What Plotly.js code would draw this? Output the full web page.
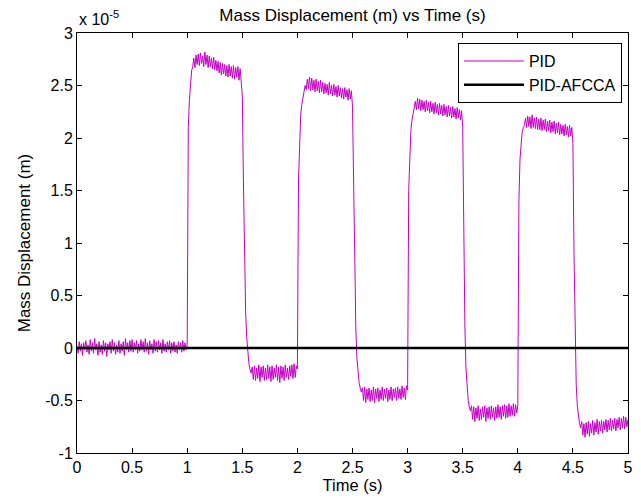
<!DOCTYPE html>
<html>
<head>
<meta charset="utf-8">
<script src="https://cdn.plot.ly/plotly-3.0.1.min.js"></script>
<style>html,body{margin:0;padding:0;background:#fff;}</style>
</head>
<body>
<div id="chart" style="width:641px;height:498px;"></div>
<script>
// Time axis: sampled every 0.01 s starting at 0 s
var timeStart = 0;
var timeStep = 0.01;
// Mass displacement for PID, in units of 1e-5 m
var pid_0_05 = [
 0.02,-0.05,0.06,-0.03,0.04,-0.07,0.05,-0.02,0.07,-0.04,
 0.03,-0.06,0.08,-0.03,0.05,-0.05,0.09,-0.02,0.04,-0.07,
 0.06,-0.04,0.03,-0.06,0.07,-0.03,0.05,-0.08,0.04,-0.02,
 0.06,-0.05,0.08,-0.03,0.05,-0.06,0.03,-0.04,0.07,-0.05,
 0.04,-0.03,0.06,-0.07,0.09,-0.02,0.05,-0.04,0.07,-0.03];
var pid_05_1 = [
 0.08,-0.04,0.05,-0.02,0.07,-0.05,0.04,-0.03,0.08,-0.02,
 0.06,-0.04,0.09,-0.03,0.05,-0.06,0.07,-0.02,0.04,-0.05,
 0.08,-0.03,0.06,-0.04,0.07,-0.02,0.05,-0.05,0.08,-0.03,
 0.04,-0.04,0.06,-0.02,0.07,-0.05,0.05,-0.03,0.06,-0.04,
 0.03,-0.05,0.06,-0.02,0.05,-0.04,0.07,-0.03,0.05,-0.02];
var pid_1_15 = [
 0.03,2.10,2.36,2.52,2.64,2.68,2.76,2.67,2.79,2.70,
 2.80,2.69,2.81,2.71,2.78,2.68,2.82,2.70,2.79,2.67,
 2.78,2.68,2.76,2.66,2.77,2.65,2.74,2.64,2.73,2.62,
 2.72,2.60,2.71,2.61,2.70,2.59,2.69,2.58,2.70,2.59,
 2.68,2.57,2.69,2.56,2.67,2.58,2.68,2.55,2.66,2.54];
var pid_15_2 = [
 2.40,1.60,0.85,0.35,0.10,-0.05,-0.15,-0.20,-0.24,-0.18,
 -0.30,-0.17,-0.31,-0.19,-0.29,-0.16,-0.32,-0.18,-0.28,-0.17,
 -0.31,-0.19,-0.30,-0.16,-0.29,-0.18,-0.32,-0.17,-0.30,-0.19,
 -0.28,-0.16,-0.31,-0.18,-0.33,-0.17,-0.29,-0.18,-0.31,-0.16,
 -0.28,-0.19,-0.30,-0.17,-0.27,-0.16,-0.29,-0.15,-0.28,-0.17];
var pid_2_25 = [
 -0.20,1.60,2.05,2.22,2.32,2.38,2.44,2.50,2.46,2.56,
 2.47,2.58,2.45,2.57,2.46,2.55,2.44,2.56,2.45,2.54,
 2.43,2.55,2.44,2.53,2.42,2.52,2.43,2.51,2.41,2.53,
 2.42,2.50,2.40,2.51,2.41,2.49,2.39,2.50,2.40,2.48,
 2.38,2.47,2.37,2.48,2.39,2.46,2.36,2.47,2.37,2.45];
var pid_25_3 = [
 2.30,1.50,0.70,0.20,-0.10,-0.25,-0.33,-0.38,-0.42,-0.38,
 -0.50,-0.37,-0.52,-0.39,-0.49,-0.38,-0.51,-0.40,-0.50,-0.37,
 -0.52,-0.39,-0.48,-0.38,-0.51,-0.40,-0.49,-0.37,-0.50,-0.39,
 -0.48,-0.38,-0.51,-0.40,-0.49,-0.37,-0.50,-0.39,-0.47,-0.38,
 -0.50,-0.37,-0.48,-0.39,-0.49,-0.36,-0.47,-0.38,-0.49,-0.36];
var pid_3_35 = [
 -0.40,1.50,1.90,2.08,2.17,2.24,2.28,2.35,2.27,2.38,
 2.28,2.37,2.26,2.36,2.27,2.35,2.25,2.36,2.26,2.34,
 2.24,2.35,2.25,2.33,2.23,2.34,2.24,2.32,2.22,2.33,
 2.23,2.31,2.21,2.32,2.22,2.30,2.20,2.31,2.21,2.29,
 2.19,2.30,2.20,2.28,2.18,2.29,2.19,2.27,2.17,2.26];
var pid_35_4 = [
 2.10,1.00,0.20,-0.20,-0.40,-0.50,-0.56,-0.60,-0.55,-0.68,
 -0.56,-0.70,-0.57,-0.67,-0.55,-0.69,-0.58,-0.68,-0.56,-0.66,
 -0.55,-0.70,-0.57,-0.67,-0.56,-0.68,-0.55,-0.66,-0.57,-0.69,
 -0.56,-0.67,-0.54,-0.66,-0.56,-0.68,-0.55,-0.65,-0.54,-0.67,
 -0.55,-0.66,-0.53,-0.65,-0.55,-0.64,-0.53,-0.65,-0.54,-0.62];
var pid_4_45 = [
 -0.55,1.40,1.80,1.97,2.06,2.10,2.12,2.19,2.10,2.21,
 2.11,2.20,2.09,2.22,2.10,2.19,2.09,2.20,2.08,2.18,
 2.08,2.19,2.07,2.17,2.08,2.18,2.06,2.16,2.07,2.17,
 2.05,2.15,2.06,2.16,2.04,2.14,2.05,2.15,2.03,2.13,
 2.04,2.12,2.02,2.13,2.03,2.11,2.01,2.12,2.02,2.10];
var pid_45_5 = [
 1.95,0.90,0.00,-0.35,-0.55,-0.65,-0.72,-0.76,-0.70,-0.83,
 -0.72,-0.85,-0.71,-0.82,-0.70,-0.84,-0.72,-0.81,-0.69,-0.83,
 -0.71,-0.80,-0.68,-0.82,-0.70,-0.79,-0.69,-0.81,-0.70,-0.78,
 -0.68,-0.80,-0.69,-0.78,-0.67,-0.79,-0.69,-0.77,-0.67,-0.79,
 -0.68,-0.76,-0.66,-0.78,-0.67,-0.76,-0.65,-0.77,-0.66,-0.75,
 -0.68];
// PID-AFCCA stays at zero over the whole run
var afccaTime = [0, 5];
var afccaValues = [0, 0];

var xTickVals = [0, 0.5, 1, 1.5, 2, 2.5, 3, 3.5, 4, 4.5, 5];
var xTickText = ['0','0.5','1','1.5','2','2.5','3','3.5','4','4.5','5'];
var yTickVals = [-1, -0.5, 0, 0.5, 1, 1.5, 2, 2.5, 3];
var yTickText = ['-1','-0.5','0','0.5','1','1.5','2','2.5','3'];

var pidValues = [].concat(pid_0_05, pid_05_1, pid_1_15, pid_15_2, pid_2_25,
  pid_25_3, pid_3_35, pid_35_4, pid_4_45, pid_45_5);

var FONT = 'Liberation Sans, Arial, Helvetica, sans-serif';

var traces = [
  {
    type: 'scatter', mode: 'lines', name: 'PID',
    x0: timeStart, dx: timeStep, y: pidValues,
    line: {color: '#c400c4', width: 1}
  },
  {
    type: 'scatter', mode: 'lines', name: 'PID-AFCCA',
    x: afccaTime, y: afccaValues,
    line: {color: '#000000', width: 2.5}
  }
];

var axisCommon = {
  showline: true, linecolor: '#000', linewidth: 1, mirror: 'ticks',
  ticks: 'inside', ticklen: 5, tickcolor: '#000', tickwidth: 1,
  showgrid: false, zeroline: false,
  tickfont: {family: FONT, size: 16, color: '#000'},
  tickmode: 'array'
};

var layout = {
  width: 641, height: 498,
  margin: {l: 77, r: 13, t: 33, b: 45},
  paper_bgcolor: '#fff', plot_bgcolor: '#fff',
  font: {family: FONT, color: '#000'},
  title: {text: 'Mass Displacement (m) vs Time (s)', x: 0.5, xref: 'paper',
          y: 0.97, yref: 'container', yanchor: 'middle',
          font: {family: FONT, size: 17, color: '#000'}},
  xaxis: Object.assign({}, axisCommon, {
    range: [0, 5], tickvals: xTickVals, ticktext: xTickText,
    title: {text: 'Time (s)', standoff: 2, font: {family: FONT, size: 16.5, color: '#000'}}
  }),
  yaxis: Object.assign({}, axisCommon, {
    range: [-1, 3], tickvals: yTickVals, ticktext: yTickText,
    title: {text: 'Mass Displacement (m)', standoff: 10, font: {family: FONT, size: 17, color: '#000'}}
  }),
  showlegend: true,
  legend: {
    x: 0.989, xanchor: 'right', y: 0.976, yanchor: 'top',
    bgcolor: '#fff', bordercolor: '#000', borderwidth: 1,
    itemwidth: 60,
    font: {family: FONT, size: 16, color: '#000'},
    tracegroupgap: 0
  },
  annotations: [{
    text: 'x 10<sup>-5</sup>', xref: 'paper', yref: 'paper',
    x: 0, y: 1, xanchor: 'left', yanchor: 'bottom', yshift: 3, showarrow: false,
    font: {family: FONT, size: 16, color: '#000'}
  }]
};

Plotly.newPlot('chart', traces, layout, {displayModeBar: false, staticPlot: true});
</script>
</body>
</html>
